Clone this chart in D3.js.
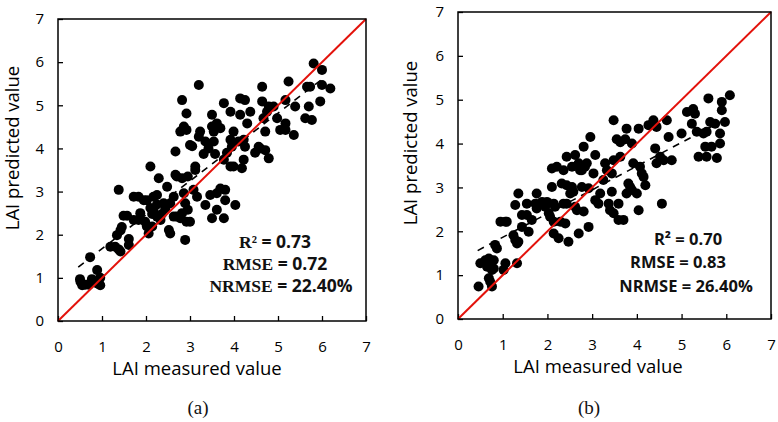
<!DOCTYPE html>
<html>
<head>
<meta charset="utf-8">
<script src="https://cdnjs.cloudflare.com/ajax/libs/d3/7.8.5/d3.min.js"></script>
<style>
body { margin: 0; background: #fff; }
#canvas { display: block; }
</style>
</head>
<body>
<svg id="canvas" width="778" height="422"></svg>
<script>
// ticks used on both axes of both panels
var tickValues = [0, 1, 2, 3, 4, 5, 6, 7];

// panel (a): [measured, predicted]
var pointsA = [
  [0.51,0.91],[0.62,0.84],[0.70,0.84],[0.77,0.97],[0.89,0.87],[0.96,0.83],[0.89,1.18],[0.73,1.48],
  [0.55,0.83],[0.96,1.00],[0.50,0.97],[1.19,1.72],[1.30,1.72],[1.38,1.66],[1.42,1.61],[1.34,1.99],
  [1.42,2.10],[1.45,2.18],[1.38,3.04],[1.49,2.44],[1.57,2.44],[1.61,1.90],[1.61,1.76],[1.72,2.88],
  [1.83,2.88],[1.95,2.80],[2.02,2.80],[1.72,2.34],[1.83,2.34],[1.87,2.50],[1.98,2.30],[2.02,2.19],
  [2.06,2.03],[2.10,3.58],[2.14,2.19],[2.17,2.88],[2.25,2.92],[2.29,3.31],[2.17,2.58],[2.25,2.42],
  [2.33,2.34],[2.40,2.73],[2.48,3.11],[2.44,2.61],[2.52,2.11],[2.55,2.03],[2.55,2.73],[2.63,2.88],
  [2.67,3.93],[2.67,3.39],[2.70,3.35],[2.63,2.42],[2.70,2.42],[2.82,3.31],[2.82,5.12],[2.86,2.96],
  [2.89,1.88],[2.89,2.73],[2.92,2.30],[2.95,2.58],[2.95,3.35],[2.78,4.39],[2.86,4.51],[2.92,4.43],
  [2.92,4.81],[3.00,4.08],[3.00,2.30],[3.08,3.04],[3.12,3.58],[3.16,2.88],[3.20,5.47],[3.20,4.27],
  [3.23,4.39],[3.31,3.87],[3.35,4.16],[3.35,2.69],[3.42,4.00],[3.46,2.92],[3.50,4.51],[3.50,4.78],
  [3.54,4.16],[3.50,2.38],[3.57,3.87],[3.61,2.96],[3.61,2.58],[3.61,4.58],[3.54,4.39],[3.69,3.07],
  [3.77,5.05],[3.77,2.38],[3.80,2.80],[3.80,3.04],[3.77,3.74],[3.84,3.90],[3.92,4.20],[3.92,4.85],
  [3.92,3.58],[3.95,4.04],[3.99,3.58],[4.03,2.69],[3.99,4.39],[4.10,4.16],[4.14,4.78],[4.14,5.16],
  [4.18,3.54],[4.22,3.74],[4.25,5.12],[4.30,4.58],[4.25,4.04],[4.22,4.20],[4.37,4.85],[4.48,3.90],
  [4.56,4.04],[4.60,4.00],[4.64,5.43],[4.64,5.09],[4.67,4.70],[4.71,3.96],[4.71,4.39],[4.75,4.85],
  [4.79,3.77],[4.79,4.97],[4.90,4.97],[4.98,4.70],[5.05,4.43],[5.17,4.43],[5.17,5.12],[5.17,4.58],
  [5.24,5.55],[5.36,4.31],[5.39,4.97],[5.62,4.70],[5.66,5.43],[5.70,4.97],[5.77,4.66],[5.81,5.97],
  [5.96,5.09],[6.00,5.82],[6.00,5.47],[6.19,5.39],[5.73,5.43],[2.10,2.62],[2.14,2.48],[2.25,2.70],
  [2.36,2.48],[2.78,2.38],[2.82,2.50],[3.12,3.50],[3.69,4.47],[3.05,4.05]
];

// panel (b): [measured, predicted]
var pointsB = [
  [0.46,0.74],[0.50,1.27],[0.61,1.34],[0.65,1.19],[0.69,1.38],[0.72,1.27],[0.76,1.12],[0.69,0.93],
  [0.76,0.74],[0.72,0.85],[0.80,1.34],[0.83,1.69],[0.87,1.61],[0.80,1.15],[0.95,2.22],[1.06,2.22],
  [1.06,1.27],[1.02,1.12],[1.09,2.22],[1.24,1.91],[1.28,1.80],[1.32,1.72],[1.28,2.60],[1.32,1.27],
  [1.35,1.76],[1.35,2.86],[1.43,2.10],[1.43,2.37],[1.54,2.63],[1.58,1.99],[1.54,2.37],[1.65,2.26],
  [1.73,2.63],[1.76,2.86],[1.76,2.52],[1.84,2.63],[1.88,2.67],[1.95,2.56],[1.99,2.67],[2.03,2.41],
  [2.06,2.33],[2.10,3.43],[2.10,3.01],[2.14,2.63],[2.14,2.22],[2.14,1.95],[2.17,2.56],[2.21,3.47],
  [2.25,1.84],[2.29,2.22],[2.32,3.09],[2.36,3.39],[2.36,2.63],[2.40,2.18],[2.43,3.70],[2.43,3.05],
  [2.43,2.63],[2.47,1.76],[2.51,2.86],[2.55,3.47],[2.55,3.01],[2.58,2.90],[2.62,3.74],[2.62,2.56],
  [2.66,2.48],[2.70,3.55],[2.70,1.95],[2.73,3.39],[2.77,3.39],[2.77,3.01],[2.81,3.93],[2.81,2.45],
  [2.84,3.47],[2.88,3.55],[2.92,2.10],[2.92,2.98],[2.96,4.15],[3.03,3.32],[3.07,3.74],[3.07,2.71],
  [3.14,2.63],[3.18,2.86],[3.25,3.17],[3.29,3.55],[3.33,3.39],[3.37,2.63],[3.40,2.48],[3.44,3.32],
  [3.44,2.90],[3.48,4.53],[3.48,3.62],[3.48,2.41],[3.55,4.10],[3.59,2.63],[3.59,2.26],[3.63,3.70],
  [3.63,4.03],[3.70,2.26],[3.74,4.10],[3.77,4.34],[3.77,2.86],[3.81,3.09],[3.85,3.01],[3.89,4.00],
  [3.89,2.94],[3.92,3.55],[4.00,2.86],[4.04,4.34],[4.04,2.48],[4.07,3.47],[4.11,3.32],[4.15,3.24],
  [4.19,3.05],[4.26,4.42],[4.37,4.53],[4.41,3.89],[4.44,3.55],[4.44,4.38],[4.52,3.70],[4.56,2.63],
  [4.60,3.62],[4.67,4.53],[4.71,4.15],[4.78,3.62],[5.00,4.23],[5.12,4.72],[5.23,4.45],[5.26,4.79],
  [5.30,4.68],[5.34,4.27],[5.38,3.70],[5.53,3.93],[5.56,3.70],[5.56,4.27],[5.60,5.03],[5.64,4.49],
  [5.67,3.93],[5.79,3.67],[5.86,4.00],[5.86,4.23],[5.90,4.95],[5.90,4.76],[5.97,4.49],[6.08,5.10],
  [5.49,4.23],[5.75,4.45]
];

// fitted trend lines: [x0, y0, x1, y1]
var trendA = [0.46, 1.25, 6.07, 5.66];
var trendB = [0.44, 1.56, 5.86, 4.49];

var statsA = [["R²", " = 0.73"], ["RMSE", " = 0.72"], ["NRMSE", " = 22.40%"]];
var statsB = [["R²", " = 0.70"], ["RMSE", " = 0.83"], ["NRMSE", " = 26.40%"]];

var svg = d3.select("#canvas");
var sans = "'Open Sans', 'Noto Sans', sans-serif";
var serif = "'Liberation Serif', 'DejaVu Serif', serif";

function drawPanel(p) {
  var x = d3.scaleLinear().domain([0, 7]).range([p.left, p.right]);
  var y = d3.scaleLinear().domain([0, 7]).range([p.bottom, p.top]);
  var g = svg.append("g");

  var xAxis = g.append("g")
      .attr("transform", "translate(0," + p.bottom + ")")
      .call(d3.axisBottom(x).tickValues(tickValues).tickFormat(d3.format("d"))
        .tickSizeInner(-5).tickSizeOuter(0).tickPadding(20));
  var yAxis = g.append("g")
      .attr("transform", "translate(" + p.left + ",0)")
      .call(d3.axisLeft(y).tickValues(tickValues).tickFormat(d3.format("d"))
        .tickSizeInner(-5).tickSizeOuter(0).tickPadding(14));
  [xAxis, yAxis].forEach(function(a) {
    a.attr("font-family", sans).attr("font-size", 15);
    a.select(".domain").remove();
    a.selectAll(".tick line").attr("stroke", "#000").attr("stroke-width", 1.3);
    a.selectAll(".tick text").attr("fill", "#000");
  });

  // trend line (dashed)
  g.append("line")
      .attr("x1", x(p.trend[0])).attr("y1", y(p.trend[1]))
      .attr("x2", x(p.trend[2])).attr("y2", y(p.trend[3]))
      .attr("stroke", "#000").attr("stroke-width", 1.6)
      .attr("stroke-dasharray", "7,6");

  g.selectAll("circle.pt").data(p.points).enter().append("circle")
      .attr("class", "pt")
      .attr("cx", function(d) { return x(d[0]); })
      .attr("cy", function(d) { return y(d[1]); })
      .attr("r", 5)
      .attr("fill", "#000");

  // 1:1 line
  g.append("line")
      .attr("x1", x(0)).attr("y1", y(0))
      .attr("x2", x(7)).attr("y2", y(7))
      .attr("stroke", "#e3120b").attr("stroke-width", 2);

  // frame
  g.append("rect")
      .attr("x", p.left).attr("y", p.top)
      .attr("width", p.right - p.left).attr("height", p.bottom - p.top)
      .attr("fill", "none").attr("stroke", "#000").attr("stroke-width", 1.5);

  g.append("text")
      .attr("x", p.xTitle[0]).attr("y", p.xTitle[1])
      .attr("text-anchor", "middle")
      .attr("font-family", sans).attr("font-size", 18.5).attr("fill", "#000")
      .text("LAI measured value");
  g.append("text")
      .attr("transform", "translate(" + p.yTitle[0] + "," + p.yTitle[1] + ") rotate(-90)")
      .attr("text-anchor", "middle")
      .attr("font-family", sans).attr("font-size", 18.5).attr("fill", "#000")
      .text("LAI predicted value");

  p.stats.forEach(function(s, i) {
    var t = g.append("text")
        .attr("x", p.statPos[i][0]).attr("y", p.statPos[i][1])
        .attr("text-anchor", "middle")
        .attr("font-weight", "bold").attr("font-size", p.statSize).attr("fill", "#111");
    t.append("tspan").attr("font-family", p.labelFont).text(s[0]);
    t.append("tspan").attr("font-family", sans).text(s[1]);
  });

  g.append("text")
      .attr("x", p.caption[0]).attr("y", p.caption[1])
      .attr("text-anchor", "middle")
      .attr("font-family", serif).attr("font-size", 19).attr("fill", "#111")
      .text(p.captionText);
}

drawPanel({
  left: 58, right: 366, top: 19, bottom: 321,
  points: pointsA, trend: trendA, stats: statsA,
  statPos: [[275, 248], [275, 270], [281, 292]], statSize: 17.5, labelFont: serif,
  xTitle: [197, 375], yTitle: [19, 148],
  caption: [198, 414], captionText: "(a)"
});
drawPanel({
  left: 458, right: 771, top: 12, bottom: 319,
  points: pointsB, trend: trendB, stats: statsB,
  statPos: [[688, 245], [678, 268], [686, 292]], statSize: 16.5, labelFont: sans,
  xTitle: [598, 373], yTitle: [417, 143],
  caption: [589, 414], captionText: "(b)"
});
</script>
</body>
</html>
